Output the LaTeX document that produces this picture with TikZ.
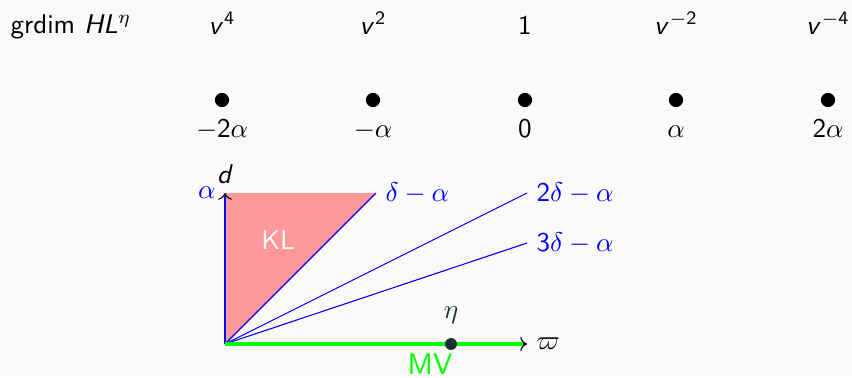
\documentclass[tikz,border=0pt]{standalone}
\usepackage{amsmath}
\renewcommand{\familydefault}{\sfdefault}
\usetikzlibrary{arrows.meta}
\definecolor{bg}{RGB}{250,250,250}
\definecolor{klpink}{RGB}{255,153,153}
\definecolor{dotgray}{RGB}{35,47,52}
\newcommand{\vv}{\textit{v}\mkern2mu}
\begin{document}
\begin{tikzpicture}[x=0.013cm,y=-0.013cm,
  dotnode/.style={circle,fill=black,inner sep=0pt,minimum size=0.185cm},
  toplab/.style={anchor=base},
  wtlab/.style={anchor=base},
  bluelab/.style={blue,anchor=west},
  axis/.style={->,black,thin}]
\fill[bg] (0,0) rectangle (852,377);
\useasboundingbox (0,0) rectangle (852,377);
% top row
\node[anchor=base west,inner sep=0pt] (title) at (10,33) {grdim \textit{HL}$^{\eta}$};
\node[toplab] (g1) at (222,34) {$\vv^{\text{4}}$};
\node[toplab] (g2) at (373,34) {$\vv^{\text{2}}$};
\node[toplab] (g3) at (525,34) {1};
\node[toplab] (g4) at (676,34) {$\vv^{-\text{2}}$};
\node[toplab] (g5) at (828,34) {$\vv^{-\text{4}}$};
% dots
\node[dotnode] (p1) at (222,100) {};
\node[dotnode] (p2) at (373,100) {};
\node[dotnode] (p3) at (525,100) {};
\node[dotnode] (p4) at (676,100) {};
\node[dotnode] (p5) at (828,100) {};
\node[wtlab] (w1) at (222,137) {$-\text{2}\alpha$};
\node[wtlab] (w2) at (373,137) {$-\alpha$};
\node[wtlab] (w3) at (525,137) {0};
\node[wtlab] (w4) at (676,137) {$\alpha$};
\node[wtlab] (w5) at (828,137) {$\text{2}\alpha$};
% lower diagram
\coordinate (O) at (225,344);
\coordinate (Ytip) at (225,193);
\coordinate (Xtip) at (527,344);
\coordinate (A) at (376,193);
\coordinate (B) at (527,193);
\coordinate (C) at (527,243);
\fill[klpink] (O) -- (Ytip) -- (A) -- cycle;
\draw[axis] (O) -- (Ytip);
\draw[blue,line width=0.8pt] (O) -- ([yshift=-1pt]Ytip);
\draw[blue,line width=0.4pt] (O) -- (A);
\draw[blue,line width=0.4pt] (O) -- (B);
\draw[blue,line width=0.4pt] (O) -- (C);
\draw[axis] (O) -- (Xtip);
\draw[green,line width=1.2pt] (O) -- ([xshift=-1.5pt]Xtip);
\node[dotgray,circle,fill=dotgray,inner sep=0pt,minimum size=0.155cm] (eta) at (451,344) {};
\node[dotgray] (etalab) at (451,315) {$\eta$};
\node[green,font=\fontsize{11}{13}\selectfont,inner sep=1pt] (mv) at (430,364) {MV};
\node[anchor=west] (varpi) at (Xtip) {$\varpi$};
\node[blue,anchor=east] (alab) at (Ytip) {$\alpha$};
\node[anchor=south] (dlab) at (Ytip) {\textit{d}};
\node[bluelab] (la) at (A) {$\delta-\alpha$};
\node[bluelab] (lb) at (B) {$\text{2}\delta-\alpha$};
\node[bluelab] (lc) at (C) {$\text{3}\delta-\alpha$};
\node[white] (kl) at (278,240) {KL};
\end{tikzpicture}
\end{document}
